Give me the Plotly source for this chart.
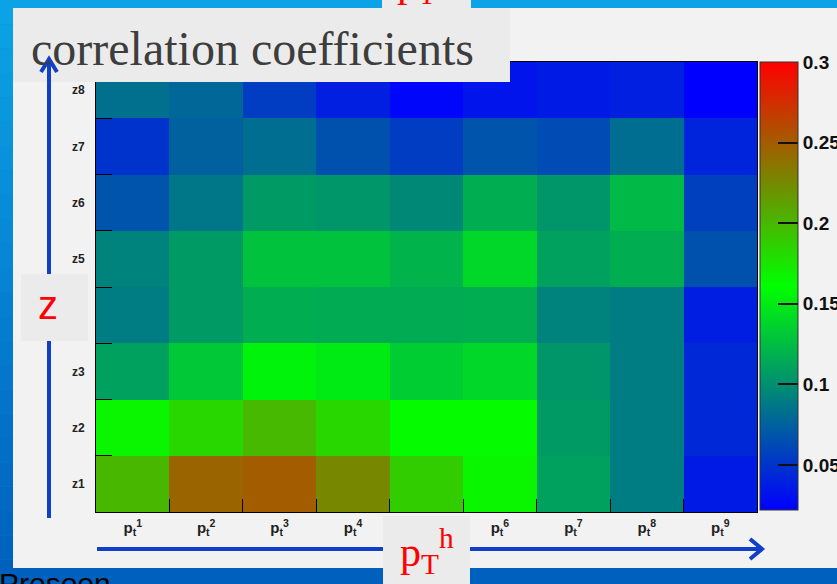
import plotly.graph_objects as go

# ---------------- data ----------------
x_labels = [f"<b>p<sub>t</sub><sup>{i}</sup></b>" for i in range(1, 10)]
y_labels = [f"<b>z{i}</b>" for i in range(1, 9)]
x_pos = list(range(1, 10))
y_pos = list(range(1, 9))

z1 = [0.200, 0.245, 0.250, 0.226, 0.188, 0.166, 0.109, 0.090, 0.036]
z2 = [0.166, 0.183, 0.199, 0.183, 0.163, 0.163, 0.106, 0.090, 0.044]
z3 = [0.109, 0.131, 0.155, 0.150, 0.134, 0.139, 0.104, 0.090, 0.044]
z4 = [0.090, 0.106, 0.117, 0.115, 0.115, 0.117, 0.093, 0.090, 0.038]
z5 = [0.093, 0.106, 0.128, 0.128, 0.120, 0.139, 0.109, 0.117, 0.066]
z6 = [0.068, 0.087, 0.106, 0.104, 0.096, 0.117, 0.104, 0.123, 0.057]
z7 = [0.050, 0.075, 0.082, 0.066, 0.055, 0.068, 0.063, 0.082, 0.041]
z8 = [0.083, 0.078, 0.055, 0.039, 0.025, 0.033, 0.036, 0.039, 0.022]
z_rows = [z1, z2, z3, z4, z5, z6, z7, z8]

cb_min, cb_max = 0.022, 0.30
cb_ticks = [0.05, 0.10, 0.15, 0.20, 0.25, 0.30]
cb_ticktext = ["0.05", "0.1", "0.15", "0.2", "0.25", "0.3"]

# ---------------- geometry helpers (pixel -> paper) ----------------
W, H = 837, 584
L, R, T, B = 96, 80, 62, 72
PW, PH = W - L - R, H - T - B


def px(x):
    return (x - L) / PW


def py(y):
    return (H - B - y) / PH


fig = go.Figure()
fig.add_trace(go.Heatmap(
    x=x_pos, y=y_pos, z=z_rows,
    zmin=cb_min, zmax=cb_max,
    colorscale=[[0, "rgb(0,0,255)"], [0.5, "rgb(0,255,0)"], [1, "rgb(255,0,0)"]],
    colorbar=dict(
        x=px(760), xanchor="left", xpad=0, ypad=0,
        y=1, yanchor="top", len=448, lenmode="pixels",
        thickness=38, thicknessmode="pixels",
        outlinewidth=1, outlinecolor="#333333",
        tickmode="array", tickvals=cb_ticks, ticktext=cb_ticktext,
        ticks="inside", ticklen=20, tickwidth=1.5, tickcolor="#111111",
        tickfont=dict(family="Arial", size=19, color="#111111", weight="bold"),
    ),
    hoverinfo="skip",
))

shapes = []
# background gradient bands
n = 24
for i in range(n):
    t = (i + 0.5) / n
    r = int(12 + (0 - 12) * t)
    g = int(165 + (95 - 165) * t)
    b = int(230 + (190 - 230) * t)
    shapes.append(dict(type="rect", xref="paper", yref="paper", layer="below",
                       x0=px(0), x1=px(W), y0=py(H * (i + 1) / n), y1=py(H * i / n),
                       fillcolor=f"rgb({r},{g},{b})", line=dict(width=0)))
# gray panel
shapes.append(dict(type="rect", xref="paper", yref="paper", layer="below",
                   x0=px(13), x1=px(W), y0=py(568), y1=py(8),
                   fillcolor="#f2f2f2", line=dict(width=0)))
# title box
shapes.append(dict(type="rect", xref="paper", yref="paper", layer="above",
                   x0=px(13), x1=px(510), y0=py(82), y1=py(8),
                   fillcolor="#ebebeb", line=dict(width=0)))
arrow_col = "#1040c8"
# left arrow
shapes.append(dict(type="line", xref="paper", yref="paper", layer="above",
                   x0=px(49), x1=px(49), y0=py(518), y1=py(59),
                   line=dict(color=arrow_col, width=4)))
shapes.append(dict(type="path", xref="paper", yref="paper", layer="above",
                   path=f"M {px(41)},{py(72)} L {px(49)},{py(59)} L {px(57)},{py(72)}",
                   line=dict(color=arrow_col, width=4)))
# bottom arrow
shapes.append(dict(type="line", xref="paper", yref="paper", layer="above",
                   x0=px(97), x1=px(761), y0=py(549), y1=py(549),
                   line=dict(color=arrow_col, width=4)))
shapes.append(dict(type="path", xref="paper", yref="paper", layer="above",
                   path=f"M {px(750)},{py(539)} L {px(762)},{py(549)} L {px(750)},{py(559)}",
                   line=dict(color=arrow_col, width=4)))
# z box
shapes.append(dict(type="rect", xref="paper", yref="paper", layer="above",
                   x0=px(21), x1=px(88), y0=py(341), y1=py(274),
                   fillcolor="#ebebeb", line=dict(width=0)))
# pT box bottom
shapes.append(dict(type="rect", xref="paper", yref="paper", layer="above",
                   x0=px(383), x1=px(470), y0=py(H + 2), y1=py(516),
                   fillcolor="#ebebeb", line=dict(width=0)))
# top box
shapes.append(dict(type="rect", xref="paper", yref="paper", layer="above",
                   x0=px(382), x1=px(471), y0=py(9), y1=py(-2),
                   fillcolor="#ebebeb", line=dict(width=0)))

annotations = [
    dict(text="correlation coefficients", xref="paper", yref="paper",
         x=px(29), y=py(48), xanchor="left", yanchor="middle", showarrow=False,
         font=dict(family="Liberation Serif", size=48, color="#3d3d3d")),
    dict(text="z", xref="paper", yref="paper",
         x=px(48), y=py(305), xanchor="center", yanchor="middle", showarrow=False,
         font=dict(family="Arial", size=40, color="#ff0000")),
    dict(text="p<sub>T</sub><sup>h</sup>", xref="paper", yref="paper",
         x=px(427), y=py(551), xanchor="center", yanchor="middle", showarrow=False,
         font=dict(family="Liberation Serif", size=42, color="#ff0000")),
    dict(text="p<sub>T</sub><sup>p</sup>", xref="paper", yref="paper",
         x=px(424), y=py(-19), xanchor="center", yanchor="middle", showarrow=False,
         font=dict(family="Liberation Serif", size=42, color="#ff0000")),
    dict(text="Preseen", xref="paper", yref="paper",
         x=px(-3), y=py(583), xanchor="left", yanchor="middle", showarrow=False,
         font=dict(family="Arial", size=30, color="#000000")),
]

fig.update_layout(
    width=W, height=H,
    margin=dict(l=L, r=R, t=T, b=B, pad=0, autoexpand=False),
    paper_bgcolor="#0a8ad8", plot_bgcolor="#f2f2f2",
    shapes=shapes, annotations=annotations,
    showlegend=False,
)
fig.update_xaxes(
    range=[0.5, 9.5], tickmode="array", tickvals=x_pos, ticktext=x_labels,
    ticks="", showgrid=False, zeroline=False,
    showline=True, linecolor="#000000", linewidth=1, mirror=True,
    tickfont=dict(family="Arial", size=15, color="#222222"),
    ticklabelstandoff=2,
    minor=dict(tickmode="array", tickvals=[i + 0.5 for i in range(1, 9)],
               ticks="inside", ticklen=13, tickwidth=1, tickcolor="#000000", showgrid=False),
)
fig.update_yaxes(
    range=[0.5, 8.5], tickmode="array", tickvals=y_pos, ticktext=y_labels,
    ticks="", showgrid=False, zeroline=False,
    showline=True, linecolor="#000000", linewidth=1, mirror=True,
    tickfont=dict(family="Arial", size=12, color="#222222"),
    ticklabelstandoff=8,
    minor=dict(tickmode="array", tickvals=[i + 0.5 for i in range(1, 8)],
               ticks="inside", ticklen=16, tickwidth=1, tickcolor="#000000", showgrid=False),
)

fig.write_html("out.html")
